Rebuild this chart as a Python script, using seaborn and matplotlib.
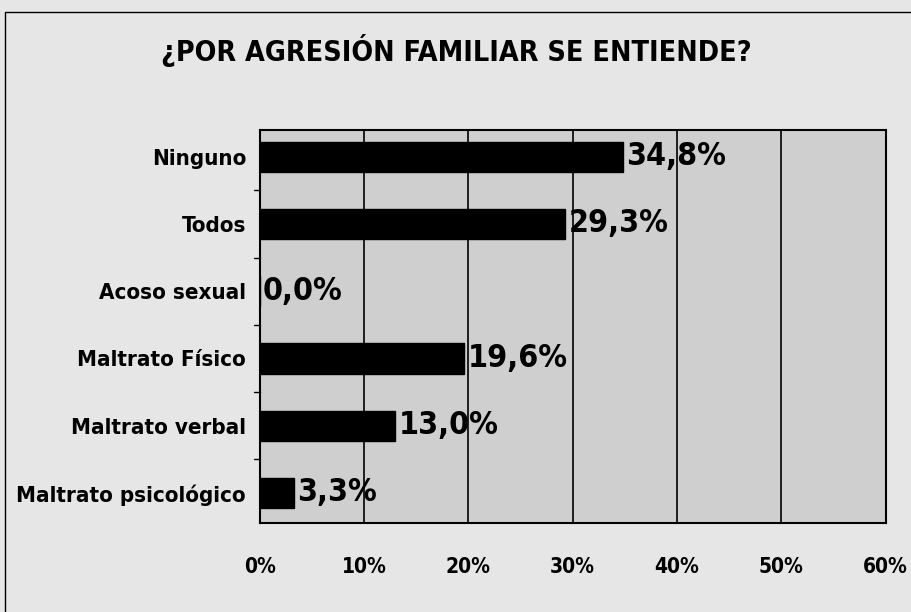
import matplotlib
matplotlib.use("Agg")
import matplotlib.pyplot as plt
import seaborn as sns
import pandas as pd

# data
categorias = ["Ninguno", "Todos", "Acoso sexual", "Maltrato Físico",
              "Maltrato verbal", "Maltrato psicológico"]
porcentajes = [34.8, 29.3, 0.0, 19.6, 13.0, 3.3]
ticks_x = [0, 10, 20, 30, 40, 50, 60]

df = pd.DataFrame({"categoria": categorias, "porcentaje": porcentajes})

sns.set_style("white")
plt.rcParams["font.family"] = ["DejaVu Sans", "Liberation Sans"]
plt.rcParams["font.stretch"] = "condensed"
plt.rcParams["font.weight"] = "bold"
plt.rcParams["text.color"] = "black"
plt.rcParams["xtick.color"] = "black"
plt.rcParams["ytick.color"] = "black"

fig = plt.figure(figsize=(9.12, 6.12), dpi=100)
fig.patch.set_facecolor("#e6e6e6")
ax = fig.add_axes([0.285, 0.145, 0.686, 0.643])
ax.set_facecolor("#cfcfcf")

sns.barplot(data=df, x="porcentaje", y="categoria", color="black",
            width=0.45, ax=ax, saturation=1, edgecolor="black")

# etiquetas de valor con coma decimal
for i, v in enumerate(porcentajes):
    ax.text(v + 0.3, i, f"{v:.1f}%".replace(".", ","), va="center", ha="left",
            fontsize=23, fontweight="bold", color="black")

ax.set_xlim(0, 60)
ax.set_ylim(5.45, -0.4)
ax.set_xticks(ticks_x)
ax.set_xticklabels([f"{t}%" for t in ticks_x], fontsize=15, fontweight="bold")
ax.tick_params(axis="x", length=0, pad=24)
ax.tick_params(axis="y", length=0, pad=10, labelsize=16)
for lbl in ax.get_yticklabels():
    lbl.set_fontweight("bold")
ax.xaxis.grid(True, color="black", linewidth=1.2)
ax.set_axisbelow(True)
ax.set_xlabel("")
ax.set_ylabel("")
for s in ax.spines.values():
    s.set_visible(True)
    s.set_color("black")
    s.set_linewidth(1.5)

# small tick marks between categories
for b in range(1, len(categorias)):
    ax.plot([-0.6, 0], [b - 0.5, b - 0.5], color="black", lw=1, clip_on=False)

fig.text(0.5, 0.918, "¿POR AGRESIÓN FAMILIAR SE ENTIENDE?", ha="center",
         va="center", fontsize=20.5, fontweight="bold")

# thin border around the whole chart
fig.patches.append(plt.Rectangle((0.006, -0.02), 1.1, 1.0, transform=fig.transFigure,
                                 fill=False, edgecolor="black", linewidth=1))

fig.savefig("out.png", dpi=100, facecolor=fig.get_facecolor())
